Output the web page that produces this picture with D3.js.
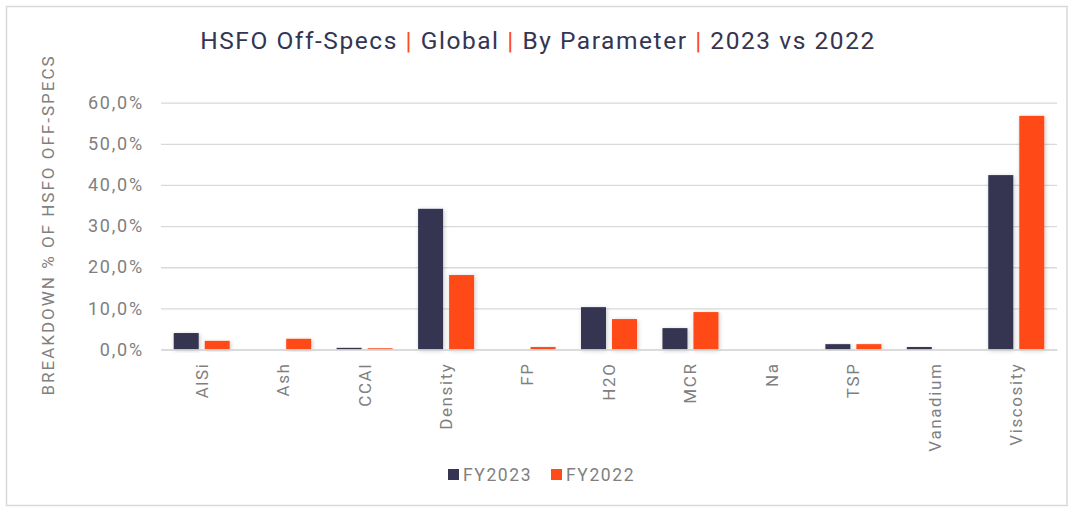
<!DOCTYPE html>
<html><head><meta charset="utf-8">
<script src="https://cdn.jsdelivr.net/npm/d3@7"></script>
<style>
html,body{margin:0;padding:0;background:#fff;}
text{font-family:Roboto, "Open Sans", sans-serif;}
</style></head>
<body>
<svg id="chart" width="1073" height="510"></svg>
<script>
const categories = ["AlSi","Ash","CCAI","Density","FP","H2O","MCR","Na","TSP","Vanadium","Viscosity"];
const seriesNames = ["FY2023","FY2022"];
const fy2023 = [4.0, 0.0, 0.4, 34.2, 0.0, 10.3, 5.2, 0.0, 1.3, 0.6, 42.4];
const fy2022 = [2.1, 2.6, 0.3, 18.1, 0.6, 7.4, 9.1, 0.0, 1.3, 0.0, 56.8];
const yTicks = [0, 10, 20, 30, 40, 50, 60];
const colors = {FY2023:"#353551", FY2022:"#FF4A19"};
const titleParts = ["HSFO Off-Specs ","|"," Global ","|"," By Parameter ","|"," 2023 vs 2022"];
const yTitle = "BREAKDOWN % OF HSFO OFF-SPECS";

const svg = d3.select("#chart");
const M = {left:161, right:1057, top:102.7, bottom:349.5};

const defs = svg.append("defs");
const f = defs.append("filter").attr("id","sh").attr("x","-30%").attr("y","-10%").attr("width","160%").attr("height","130%");
f.append("feDropShadow").attr("dx",1).attr("dy",1).attr("stdDeviation",2).attr("flood-color","#000").attr("flood-opacity",0.22);

// border
svg.append("rect").attr("x",6.5).attr("y",6.5).attr("width",1060.5).attr("height",499)
  .attr("fill","#fff").attr("stroke","#d9d9d9").attr("stroke-width",1.5);

const x0 = d3.scaleBand().domain(categories).range([M.left, M.right]).paddingInner(0.3125).paddingOuter(0.15625);
const x1 = d3.scaleBand().domain(seriesNames).range([0, x0.bandwidth()]).paddingInner(0.194);
const y = d3.scaleLinear().domain([0, 60]).range([M.bottom, M.top]);

// grid
const yAxis = d3.axisLeft(y).tickValues(yTicks).tickSize(-(M.right - M.left)).tickPadding(17)
  .tickFormat(d => d.toFixed(1).replace(".", ",") + "%");
const gy = svg.append("g").attr("transform", `translate(${M.left},0)`).call(yAxis);
gy.select(".domain").remove();
gy.selectAll(".tick line").attr("stroke","#d9d9d9").attr("stroke-width",1.3);
gy.selectAll(".tick text").attr("fill","#808080").style("font-size","18px").style("letter-spacing","1.8px");

// bars
const data = categories.map((c,i)=>({cat:c, vals:[{s:"FY2023", v:fy2023[i]},{s:"FY2022", v:fy2022[i]}]}));
const groups = svg.append("g").selectAll("g").data(data).join("g")
  .attr("transform", d => `translate(${x0(d.cat)},0)`);
groups.selectAll("rect").data(d => d.vals.filter(o => o.v > 0)).join("rect")
  .attr("x", d => x1(d.s)).attr("width", x1.bandwidth())
  .attr("y", d => y(d.v)).attr("height", d => y(0) - y(d.v))
  .attr("fill", d => colors[d.s]).attr("filter","url(#sh)");

// x axis
const xAxis = d3.axisBottom(x0).tickSize(0).tickPadding(0);
const gx = svg.append("g").attr("transform", `translate(0,${M.bottom})`).call(xAxis);
gx.select(".domain").attr("stroke","#d9d9d9").attr("stroke-width",1.3);
gx.selectAll(".tick text").attr("fill","#808080").style("font-size","17px").style("letter-spacing","1.6px")
  .attr("transform","rotate(-90)").attr("text-anchor","end").attr("x",-13).attr("y",0).attr("dy","0.35em");

// title
const t = svg.append("text").attr("x",538).attr("y",49).attr("text-anchor","middle")
  .style("font-size","24.5px").style("letter-spacing","1.55px");
t.selectAll("tspan").data(titleParts).join("tspan")
  .attr("fill",(d,i)=> i%2===1 ? "#FF4A19" : "#353551").text(d=>d);

// y title
svg.append("text").attr("transform","translate(54,225) rotate(-90)").attr("text-anchor","middle")
  .attr("fill","#808080").style("font-size","17px").style("letter-spacing","2px").text(yTitle);

// legend
const lg = svg.append("g").attr("transform","translate(448,469)");
const items = lg.selectAll("g").data(seriesNames).join("g").attr("transform",(d,i)=>`translate(${i*103},0)`);
items.append("rect").attr("width",11).attr("height",11).attr("fill",d=>colors[d]);
items.append("text").attr("x",15).attr("y",6).attr("dy","0.35em").attr("fill","#808080")
  .style("font-size","17.5px").style("letter-spacing","1.6px").text(d=>d);
</script>
</body></html>
